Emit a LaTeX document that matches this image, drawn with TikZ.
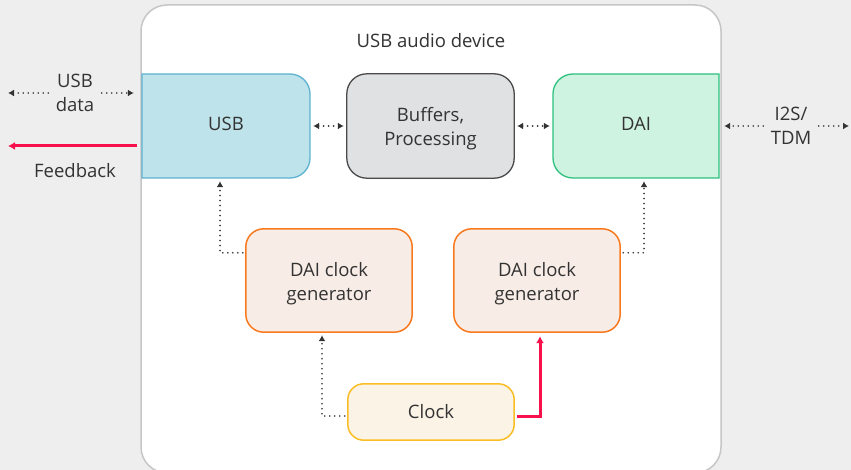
\documentclass[tikz,border=0pt]{standalone}
\usepackage{fontspec}
\setmainfont{Open Sans}
\usetikzlibrary{arrows.meta,calc}
\definecolor{bg}{HTML}{EEEEEE}
\definecolor{txt}{HTML}{333333}
\definecolor{frame}{HTML}{C6C6C6}
\definecolor{usbfill}{HTML}{BEE3EB}
\definecolor{usbline}{HTML}{5DB3D0}
\definecolor{buffill}{HTML}{E0E1E3}
\definecolor{bufline}{HTML}{4A4A4A}
\definecolor{daifill}{HTML}{CEF3E1}
\definecolor{dailine}{HTML}{2EC07F}
\definecolor{genfill}{HTML}{F8ECE6}
\definecolor{genline}{HTML}{F97A1E}
\definecolor{clkfill}{HTML}{FBF4E6}
\definecolor{clkline}{HTML}{FBBD24}
\definecolor{fb}{HTML}{F7104C}
\definecolor{dotc}{HTML}{333333}
\tikzset{
  lbl/.style={text=txt, font=\fontsize{18.5}{24}\selectfont, align=center},
  two/.style={yshift=-3pt},
  slot/.style={draw=none, inner sep=0pt},
  dotline/.style={dotc, line width=1.8pt, line cap=round, dash pattern=on 0pt off 5pt},
  dotarrow/.style={dotline, -{Latex[length=6pt,width=7pt]}},
  dotboth/.style={dotline, {Latex[length=6pt,width=7pt]}-{Latex[length=6pt,width=7pt]}},
  redarrow/.style={fb, line width=3pt, -{Latex[length=7pt,width=8pt]}},
}
\begin{document}
\begin{tikzpicture}[x=1pt,y=-1pt]
  % canvas
  \fill[bg] (0,0) rectangle (851,470);
  \useasboundingbox (0,0) rectangle (851,470);

  % device frame
  \draw[frame, fill=white, line width=1.5pt, rounded corners=26pt] (141,5) rectangle (721,473);
  \node[lbl] (title) at (431,41) {USB audio device};

  % USB block: square on the left, rounded on the right
  \draw[usbline, fill=usbfill, line width=1.3pt]
    (142,74) -- (290,74) arc[start angle=90, end angle=0, radius=20pt]
    -- (310,158) arc[start angle=0, end angle=-90, radius=20pt]
    -- (142,178) -- cycle;
  \node[slot, minimum width=168pt, minimum height=104pt] (usb) at (226,126) {};
  \node[lbl, yshift=2pt] at (usb) {USB};

  % buffers block
  \node[slot, minimum width=167pt, minimum height=104pt] (buf) at (430.5,126) {};
  \draw[bufline, fill=buffill, line width=1.3pt, rounded corners=20pt]
    (buf.south west) rectangle (buf.north east);
  \node[lbl, two] at (buf) {Buffers,\\Processing};

  % DAI block: rounded on the left, square on the right
  \draw[dailine, fill=daifill, line width=1.3pt]
    (719,74) -- (573,74) arc[start angle=90, end angle=180, radius=20pt]
    -- (553,158) arc[start angle=180, end angle=270, radius=20pt]
    -- (719,178) -- cycle;
  \node[slot, minimum width=166pt, minimum height=104pt] (dai) at (636,126) {};
  \node[lbl, yshift=2pt] at (dai) {DAI};

  % clock generators
  \node[slot, minimum width=166pt, minimum height=103pt] (gena) at (329,280.5) {};
  \draw[genline, fill=genfill, line width=1.5pt, rounded corners=18pt]
    (gena.south west) rectangle (gena.north east);
  \node[lbl, two] at (gena) {DAI clock\\generator};

  \node[slot, minimum width=166pt, minimum height=103pt] (genb) at (537,280.5) {};
  \draw[genline, fill=genfill, line width=1.5pt, rounded corners=18pt]
    (genb.south west) rectangle (genb.north east);
  \node[lbl, two] at (genb) {DAI clock\\generator};

  % master clock
  \node[slot, minimum width=166pt, minimum height=56pt] (clk) at (431,412) {};
  \draw[clkline, fill=clkfill, line width=1.5pt, rounded corners=16pt]
    (clk.south west) rectangle (clk.north east);
  \node[lbl] at (clk) {Clock};

  % data paths between blocks
  \draw[dotboth, shorten <=3pt, shorten >=3pt] (usb.east) -- (buf.west);
  \draw[dotboth, shorten <=3pt, shorten >=3pt] (buf.east) -- (dai.west);

  % external USB data
  \node[lbl] (usbdata) at (75,93) {USB\\data};
  \coordinate (usbext) at (8,93);
  \draw[dotarrow, shorten <=4pt] (usbdata.west |- usbext) -- (usbext);
  \draw[dotarrow, shorten <=4pt, shorten >=8pt] (usbdata.east |- usbext) -- ([yshift=33pt]usb.west);

  % feedback
  \coordinate (fbext) at (8,146);
  \draw[redarrow, shorten <=5pt] ([yshift=-20pt]usb.west) -- (fbext);
  \node[lbl] (fblabel) at (75,171) {Feedback};

  % external I2S / TDM
  \node[lbl] (i2s) at (791,126) {I2S/\\TDM};
  \coordinate (i2sext) at (849,126);
  \draw[dotarrow, shorten <=4pt, shorten >=5pt] (i2s.west |- dai.east) -- (dai.east);
  \draw[dotarrow, shorten <=4pt] (i2s.east |- i2sext) -- (i2sext);

  % clock distribution
  \draw[dotarrow, shorten <=3pt, shorten >=3pt] ([yshift=-24pt]gena.north west) -| ([xshift=-6pt]usb.south);
  \draw[dotarrow, shorten <=3pt, shorten >=3pt] ([yshift=-24pt]genb.north east) -| ([xshift=8pt]dai.south);
  \draw[dotarrow, shorten <=3pt, shorten >=3pt] ([yshift=-4pt]clk.west) -| ([xshift=-7pt]gena.south);
  \draw[redarrow, shorten <=3pt, shorten >=4pt] ([yshift=-4pt]clk.east) -| ([xshift=3pt]genb.south);
\end{tikzpicture}
\end{document}
